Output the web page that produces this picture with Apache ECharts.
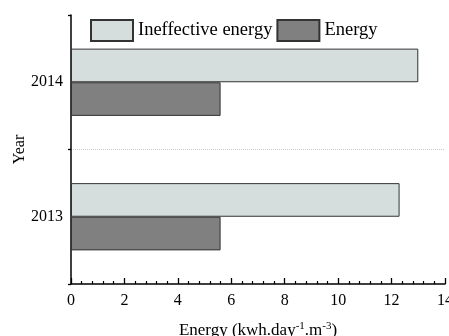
<!DOCTYPE html>
<html>
<head>
<meta charset="utf-8">
<script src="https://cdn.jsdelivr.net/npm/echarts@6/dist/echarts.min.js"></script>
<style>
  html, body { margin: 0; padding: 0; background: #fff; }
</style>
</head>
<body>
<div id="chart" style="width: 449px; height: 336px;"></div>
<script>
// data
const years = ['2013', '2014'];
const ineffectiveEnergy = [12.3, 13.0];
const energy = [5.6, 5.6];
const xTicks = [0, 2, 4, 6, 8, 10, 12, 14];

const font = '"Liberation Serif", "Times New Roman", serif';
const myChart = echarts.init(document.getElementById('chart'), null, { renderer: 'canvas' });

const option = {
  animation: false,
  textStyle: { fontFamily: font, color: '#000' },
  legend: {
    data: ['Ineffective energy', 'Energy'],
    left: 85,
    top: 14,
    itemWidth: 42,
    itemHeight: 21,
    itemGap: 4,
    icon: 'rect',
    textStyle: { fontFamily: font, fontSize: 18.5, color: '#000' }
  },
  grid: { left: 71, top: 15, right: 4, bottom: 52, outerBoundsMode: 'none', containLabel: false },
  xAxis: {
    type: 'value',
    min: xTicks[0],
    max: xTicks[xTicks.length - 1],
    interval: 2,
    name: 'Energy (kwh.day{sup|-1}.m{sup|-3})',
    nameLocation: 'middle',
    nameGap: 37,
    nameMoveOverlap: false,
    nameTextStyle: {
      fontFamily: font, fontSize: 17, color: '#000',
      rich: { sup: { fontFamily: font, fontSize: 11, verticalAlign: 'top', padding: [0, 0, 8, 0] } }
    },
    axisLine: { show: true, lineStyle: { color: '#000', width: 1.5 } },
    axisTick: { show: true, inside: true, length: 6, lineStyle: { color: '#000', width: 1.3 } },
    minorTick: { show: true, splitNumber: 5, length: 3, lineStyle: { color: '#000', width: 1.2 } },
    axisLabel: { fontFamily: font, fontSize: 16, color: '#000', margin: 9 },
    splitLine: { show: false }
  },
  yAxis: {
    type: 'category',
    data: years,
    name: 'Year',
    nameLocation: 'middle',
    nameGap: 43,
    nameMoveOverlap: false,
    nameTextStyle: { fontFamily: font, fontSize: 16, color: '#000' },
    axisLine: { show: true, lineStyle: { color: '#000', width: 1.5 } },
    axisTick: { show: true, length: 3, lineStyle: { color: '#000', width: 1.3 } },
    axisLabel: { fontFamily: font, fontSize: 16, color: '#000', margin: 8 },
    splitLine: {
      show: true,
      interval: 0,
      showMinLine: false,
      showMaxLine: false,
      lineStyle: { color: '#ccc', type: 'dotted', width: 1 }
    }
  },
  series: [
    {
      name: 'Ineffective energy',
      type: 'bar',
      data: ineffectiveEnergy,
      barGap: '0%',
      barCategoryGap: '50%',
      itemStyle: { color: '#d6dedd', borderColor: '#333', borderWidth: 1 }
    },
    {
      name: 'Energy',
      type: 'bar',
      data: energy,
      barGap: '0%',
      barCategoryGap: '50%',
      itemStyle: { color: '#808080', borderColor: '#333', borderWidth: 1 }
    }
  ]
};

myChart.setOption(option);
</script>
</body>
</html>
